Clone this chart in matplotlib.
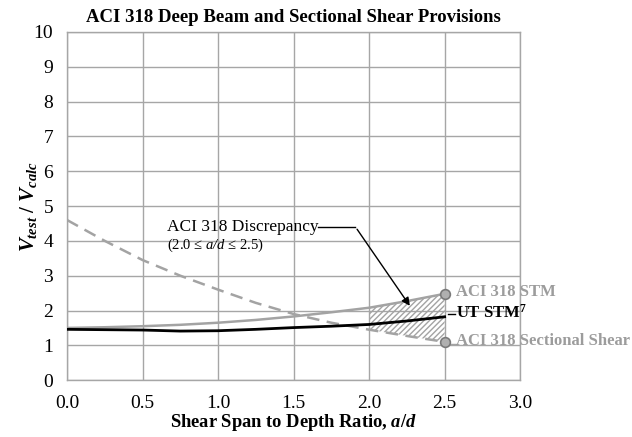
import numpy as np
import matplotlib.pyplot as plt

plt.rcParams['font.family'] = 'Liberation Serif'
plt.rcParams['mathtext.fontset'] = 'custom'
plt.rcParams['mathtext.rm'] = 'Liberation Serif:bold'
plt.rcParams['mathtext.it'] = 'Liberation Serif:bold:italic'
plt.rcParams['mathtext.bf'] = 'Liberation Serif:bold'
plt.rcParams['mathtext.cal'] = 'Liberation Serif:italic'

# data
ad = [0.0, 0.25, 0.5, 0.75, 1.0, 1.25, 1.5, 1.75, 2.0, 2.25, 2.5]
aci_stm = [1.50, 1.52, 1.55, 1.59, 1.65, 1.73, 1.83, 1.95, 2.08, 2.27, 2.48]
ut_stm = [1.46, 1.45, 1.44, 1.41, 1.42, 1.46, 1.51, 1.55, 1.60, 1.70, 1.82]
aci_sect = [4.60, 4.00, 3.45, 3.00, 2.60, 2.22, 1.90, 1.65, 1.45, 1.27, 1.10]
xticks = [0.0, 0.5, 1.0, 1.5, 2.0, 2.5, 3.0]
yticks = list(range(0, 11))

gray = '#a3a3a3'
gridc = '#a6a6a6'

fig = plt.figure(figsize=(6.32, 4.37), dpi=100)
ax = fig.add_axes([0.106, 0.130, 0.717, 0.797])

ax.plot(ad, aci_stm, color=gray, lw=1.8, zorder=3)
ax.plot(ad, ut_stm, color='black', lw=2.0, zorder=4)
ax.plot(ad, aci_sect, color=gray, lw=1.8, ls=(0, (5, 3)), zorder=3)

# discrepancy region 2.0 <= a/d <= 2.5
x = np.array(ad)
m = x >= 2.0
ax.fill_between(x[m], np.array(aci_sect)[m], np.array(aci_stm)[m],
                facecolor='none', edgecolor=gray, hatch='//////', lw=0, zorder=2)

# end markers
ax.plot([ad[-1]], [aci_stm[-1]], 'o', ms=7, mfc='#b0b0b0', mec='#7a7a7a', mew=1.2, zorder=5, clip_on=False)
ax.plot([ad[-1]], [aci_sect[-1]], 'o', ms=7, mfc='#b0b0b0', mec='#7a7a7a', mew=1.2, zorder=5, clip_on=False)

# end labels
ax.text(2.575, 2.53, 'ACI 318 STM', color='#9c9c9c', fontsize=12, fontweight='bold', va='center')
ax.text(2.575, 1.93, r'UT STM$^{\mathrm{7}}$', color='black', fontsize=12, fontweight='bold', va='center')
ax.text(2.575, 1.13, 'ACI 318 Sectional Shear', color='#9c9c9c', fontsize=12, fontweight='bold', va='center')
ax.plot([2.52, 2.57], [1.90, 1.90], color='black', lw=1.0, clip_on=False)
ax.plot([2.53, 2.575], [1.03, 1.03], color=gray, lw=1.0, clip_on=False)

# annotation
ax.text(0.66, 4.4, 'ACI 318 Discrepancy', fontsize=12.5, va='center')
ax.text(0.66, 3.88, r'(2.0 ≤ $\mathcal{a/d}$ ≤ 2.5)', fontsize=10.5, va='center')
ax.plot([1.66, 1.91], [4.4, 4.4], color='black', lw=1.0, zorder=6)
ax.annotate('', xy=(2.28, 2.07), xytext=(1.91, 4.4),
            arrowprops=dict(arrowstyle='-|>', color='black', lw=1.0, mutation_scale=12), zorder=6)

ax.set_xlim(0, 3)
ax.set_ylim(0, 10)
ax.set_xticks(xticks)
ax.set_xticklabels([f'{t:.1f}' for t in xticks])
ax.set_yticks(yticks)
ax.tick_params(length=0, labelsize=14)
ax.tick_params(axis='x', pad=11)
ax.tick_params(axis='y', pad=10)
ax.grid(True, color=gridc, lw=1.0)
for s in ax.spines.values():
    s.set_color(gridc)
    s.set_linewidth(1.0)

ax.set_title('ACI 318 Deep Beam and Sectional Shear Provisions', fontsize=13.5, fontweight='bold', pad=7)
ax.set_xlabel(r'Shear Span to Depth Ratio, $a/d$', fontsize=13.3, fontweight='bold', labelpad=0)
ax.set_ylabel(r'$V_{test}$ / $V_{calc}$', fontsize=15, fontweight='bold', labelpad=-4)

fig.savefig('out.png', dpi=100)
